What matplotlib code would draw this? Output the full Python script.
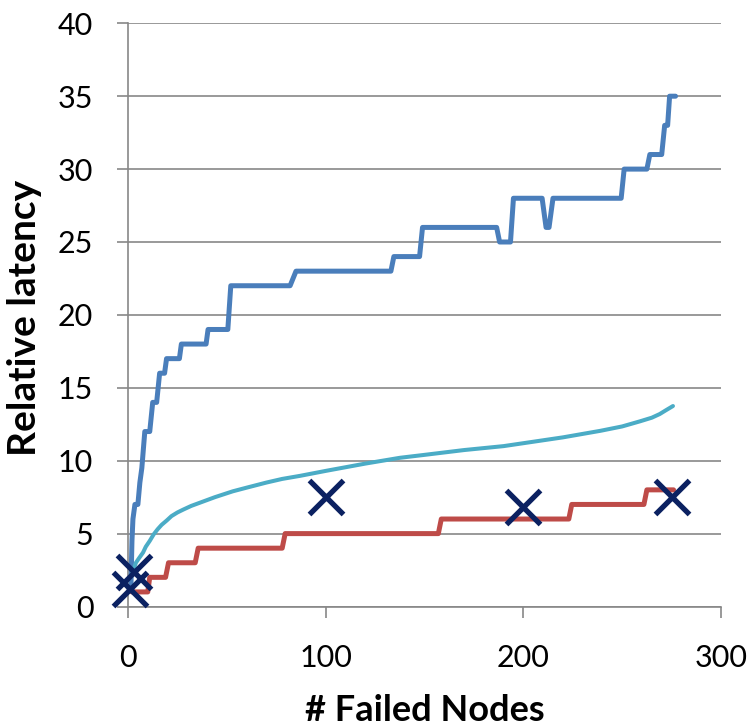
import matplotlib
matplotlib.use("Agg")
import matplotlib.pyplot as plt

plt.rcParams['font.family'] = ['Lato', 'DejaVu Sans']

# blue series (step-like)
blue_x = [1.5, 2.0, 2.5, 3.5, 5.0, 6.0, 7.0, 8.5, 11.0, 12.5, 14.5, 16.0, 18.5, 19.5,
          26.0, 27.0, 39.5, 40.5, 50.5, 52.0, 82, 85, 133, 134.5, 147.5, 149, 186.5,
          188, 193.5, 195, 209.5, 211.5, 213, 215, 249.5, 251, 262.5, 264, 270,
          271.5, 273, 274, 277]
blue_y = [1.5, 4.5, 6.0, 7.0, 7.0, 8.5, 9.5, 12, 12, 14, 14, 16, 16, 17,
          17, 18, 18, 19, 19, 22, 22, 23, 23, 24, 24, 26, 26,
          25, 25, 28, 28, 26, 26, 28, 28, 30, 30, 31, 31,
          33, 33, 35, 35]

# red series
red_x = [2, 10, 11, 19, 20.5, 34, 35.5, 78, 79.5, 157, 158.5, 223, 224.5, 261, 262.5, 276]
red_y = [1, 1, 2, 2, 3, 3, 4, 4, 5, 5, 6, 6, 7, 7, 8, 8]

# cyan series (smooth)
cyan_x = [2, 3, 4, 5.5, 7.6, 9, 11, 13, 15, 17, 19.6, 22, 25, 28, 32, 36, 44, 53, 60,
          70, 78, 87, 100, 120, 137.6, 150, 170, 190, 205, 220, 239, 250, 259, 265,
          269, 272, 275.7]
cyan_y = [2.2, 2.6, 3.0, 3.3, 3.7, 4.1, 4.5, 4.95, 5.3, 5.6, 5.9, 6.2, 6.45, 6.65,
          6.9, 7.1, 7.5, 7.9, 8.15, 8.5, 8.75, 8.96, 9.3, 9.8, 10.2, 10.4, 10.73,
          11.0, 11.3, 11.6, 12.05, 12.35, 12.7, 12.95, 13.2, 13.45, 13.75]

# cross markers
mark_x = [1, 3, 100, 200, 275]
mark_y = [1.2, 2.4, 7.5, 6.8, 7.5]

fig = plt.figure(figsize=(7.53, 7.28), dpi=100)
W, H = 753, 728
ax = fig.add_axes([128 / W, (H - 606.5) / H, (721 - 128) / W, (606.5 - 23.3) / H])

grid_col = '#878787'
line_kw = dict(solid_capstyle='round', solid_joinstyle='round', clip_on=False)
ax.plot(blue_x, blue_y, color='#4A7EBB', lw=3.6, zorder=3, **line_kw)
ax.plot(red_x, red_y, color='#BE4B48', lw=3.6, zorder=3, **line_kw)
ax.plot(cyan_x, cyan_y, color='#4BACC6', lw=2.9, zorder=3, **line_kw)
ax.plot(mark_x, mark_y, ls='none', marker='x', ms=25, mew=3.8, color='#0B2161',
        zorder=4, clip_on=False)

ax.set_xlim(0, 300)
ax.set_ylim(0, 40)
ax.set_xticks([0, 100, 200, 300])
ax.set_yticks(range(0, 41, 5))

ax.yaxis.grid(True, color=grid_col, lw=1.2)
ax.set_axisbelow(True)
for s in ['top', 'right']:
    ax.spines[s].set_visible(False)
for s in ['left', 'bottom']:
    ax.spines[s].set_color(grid_col)
    ax.spines[s].set_linewidth(1.2)

ax.tick_params(axis='y', direction='out', length=8, width=1.2, color=grid_col,
               pad=17, labelsize=22)
ax.tick_params(axis='x', direction='out', length=8, width=1.2, color=grid_col,
               pad=19, labelsize=22)

ax.set_xlabel('# Failed Nodes', fontsize=26, fontweight='bold', va='baseline')
ax.set_ylabel('Relative latency', fontsize=28, fontweight='bold', va='center')
ax.xaxis.set_label_coords(0.5, (606.5 - 721) / 583.2)
ax.yaxis.set_label_coords((25 - 128) / 593, (606.5 - 318) / 583.2)

fig.savefig('out.png', dpi=100)
